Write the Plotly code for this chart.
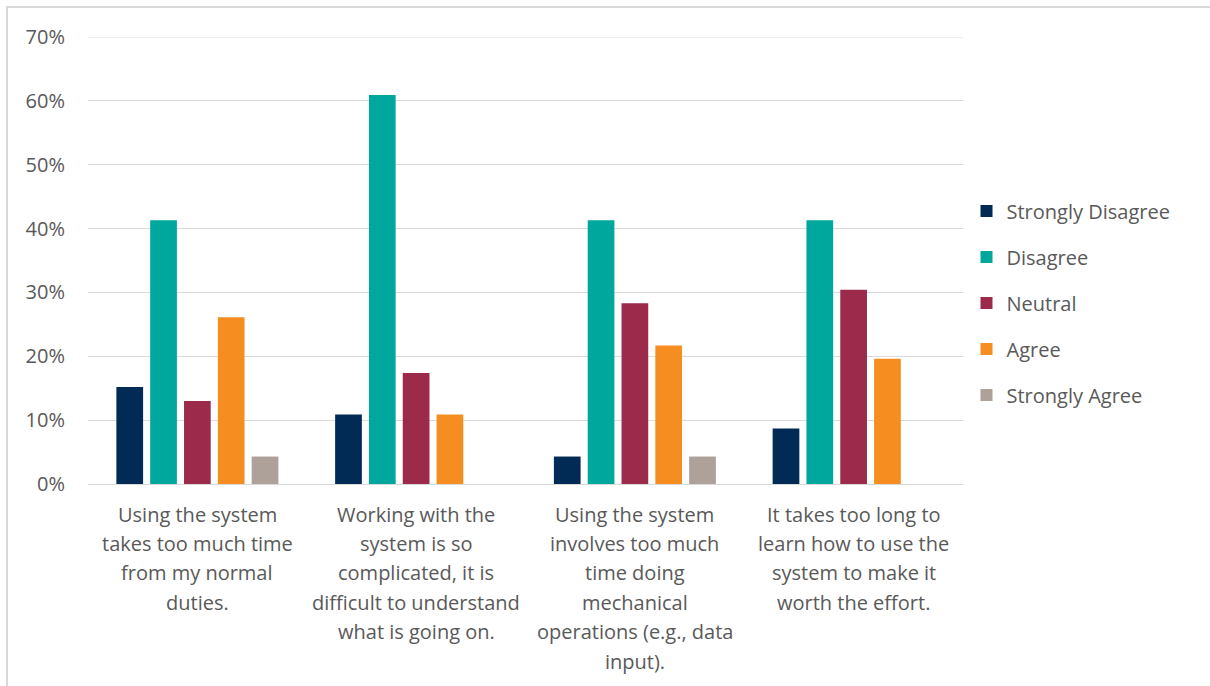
import plotly.graph_objects as go

# Survey statements (wrapped as they are printed under each group)
categories = ["Q1", "Q2", "Q3", "Q4"]
category_lines = [
    ["Using the system", "takes too much time", "from my normal", "duties."],
    ["Working with the", "system is so", "complicated, it is", "difficult to understand", "what is going on."],
    ["Using the system", "involves too much", "time doing", "mechanical", "operations (e.g., data", "input)."],
    ["It takes too long to", "learn how to use the", "system to make it", "worth the effort."],
]

# Response shares (%)
strongly_disagree = [15.2, 10.9, 4.3, 8.7]
disagree = [41.3, 60.9, 41.3, 41.3]
neutral = [13.0, 17.4, 28.3, 30.4]
agree = [26.1, 10.9, 21.7, 19.6]
strongly_agree = [4.3, 0.0, 4.3, 0.0]

series = [
    ("Strongly Disagree", strongly_disagree, "#012A54"),
    ("Disagree", disagree, "#00A79C"),
    ("Neutral", neutral, "#9B2A4B"),
    ("Agree", agree, "#F68D20"),
    ("Strongly Agree", strongly_agree, "#ADA199"),
]

y_ticks = [0, 10, 20, 30, 40, 50, 60, 70]

FONT = "Open Sans, DejaVu Sans, sans-serif"
TEXT = "#595959"
GRID = "#D9D9D9"

W, H = 1210, 686
ML, MR, MT, MB = 88, 247, 37, 202

fig = go.Figure()
for i, (name, vals, color) in enumerate(series):
    fig.add_trace(go.Bar(
        name=name, x=categories, y=vals,
        marker=dict(color=color, line=dict(width=0)),
        legendgroup=f"g{i}",
    ))

fig.update_layout(
    width=W, height=H,
    margin=dict(l=ML, r=MR, t=MT, b=MB, pad=0),
    paper_bgcolor="white", plot_bgcolor="white",
    barmode="group", bargap=0.227, bargroupgap=0.21,
    font=dict(family=FONT, size=20, color=TEXT),
    legend=dict(
        x=1.004, xanchor="left", y=0.405, yanchor="middle",
        font=dict(family=FONT, size=20, color=TEXT),
        tracegroupgap=17, itemwidth=30,
        bgcolor="rgba(0,0,0,0)",
    ),
    showlegend=True,
)

fig.update_xaxes(
    showticklabels=False, showgrid=False, zeroline=False,
    showline=False, ticks="",
)
fig.update_yaxes(
    range=[y_ticks[0], y_ticks[-1]], tickvals=y_ticks,
    ticktext=[f"{v}%" for v in y_ticks],
    showgrid=True, gridcolor=GRID, gridwidth=1,
    zeroline=True, zerolinecolor=GRID, zerolinewidth=1,
    showline=False, ticks="", ticklabelstandoff=22,
    tickfont=dict(family=FONT, size=20, color=TEXT),
)

# Top gridline sits on the plot edge, so draw it explicitly
fig.add_shape(
    type="line", xref="paper", yref="y",
    x0=0, x1=1, y0=y_ticks[-1], y1=y_ticks[-1],
    line=dict(color=GRID, width=1), layer="below",
)

# Multi-line category labels under each group
for cat, lines in zip(categories, category_lines):
    for j, line in enumerate(lines):
        fig.add_annotation(
            x=cat, xref="x", y=0, yref="paper",
            text=line, showarrow=False,
            xanchor="center", yanchor="middle",
            yshift=-30 - j * 29.4,
            font=dict(family=FONT, size=20, color=TEXT),
        )

# Thin outer frame of the chart area (right and bottom edges run off the page)
pw, ph = W - ML - MR, H - MT - MB
fig.add_shape(
    type="rect", xref="paper", yref="paper",
    x0=(7 - ML) / pw, x1=(W + 20 - ML) / pw,
    y0=-(MB + 20) / ph, y1=1 + (MT - 7) / ph,
    line=dict(color=GRID, width=2), fillcolor="rgba(0,0,0,0)",
    layer="below",
)

fig.write_html("out.html")
